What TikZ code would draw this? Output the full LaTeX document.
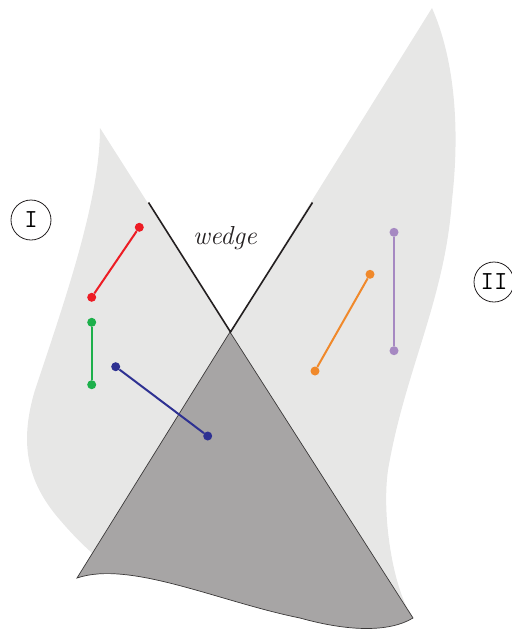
\documentclass[tikz,border=0pt]{standalone}
\usepackage{fontspec}
\definecolor{lightg}{HTML}{E7E7E6}
\definecolor{darkg}{HTML}{A7A5A5}
\definecolor{edgec}{HTML}{3A3838}
\definecolor{inkc}{HTML}{231F20}
\definecolor{segred}{HTML}{ED1C24}
\definecolor{seggreen}{HTML}{1DB04B}
\definecolor{segblue}{HTML}{2E3192}
\definecolor{segorange}{HTML}{F0892B}
\definecolor{segpurple}{HTML}{A689C2}
\begin{document}
\begin{tikzpicture}[x=1pt,y=-1pt,
  endpt/.style={circle,inner sep=0pt,minimum size=9pt,draw=none},
  segline/.style={line width=2pt},
  wedgeline/.style={line width=1.6pt,draw=inkc},
  regionlabel/.style={circle,draw=inkc,line width=0.8pt,minimum size=40pt,inner sep=0pt,font=\fontsize{26}{26}\selectfont\ttfamily}]
\useasboundingbox (0,0) rectangle (512,630);
% region I
\fill[lightg] (100,128) -- (230,332) -- (92,553)
  .. controls (82,544) and (72,534) .. (60,520)
  .. controls (25,480) and (20,440) .. (35,390)
  .. controls (65,300) and (100,200) .. (100,128) -- cycle;
% region II
\fill[lightg] (432,8) -- (230,332) -- (413,617)
  .. controls (395,595) and (381,520) .. (388,470)
  .. controls (405,370) and (445,300) .. (452,200)
  .. controls (460,130) and (455,60) .. (432,8) -- cycle;
% dark region
\filldraw[fill=darkg,draw=edgec,line width=0.7pt] (230,332) -- (77,578)
  .. controls (130,560) and (220,602) .. (300,618)
  .. controls (350,632) and (390,632) .. (413,618) -- cycle;
% wedge
\coordinate (apex) at (230.5,332);
\coordinate (wl) at (148.5,202.5);
\coordinate (wr) at (312.5,202.5);
\draw[wedgeline] (wl) -- (apex) -- (wr);
\node[font=\fontsize{26}{26}\selectfont\itshape,text=inkc] (wtext) at (225,238) {wedge};
% labels
\node[regionlabel] (labI) at (31,220) {I};
\node[regionlabel] (labII) at (494,282) {II};
% segments
\node[endpt,fill=segred] (r1) at (139.3,227.3) {};
\node[endpt,fill=segred] (r2) at (91.7,297.3) {};
\draw[segline,segred] (r1) -- (r2);
\node[endpt,fill=seggreen] (g1) at (91.7,322.3) {};
\node[endpt,fill=seggreen] (g2) at (91.7,384.7) {};
\draw[segline,seggreen] (g1) -- (g2);
\node[endpt,fill=segblue] (b1) at (115.7,366.7) {};
\node[endpt,fill=segblue] (b2) at (207.7,436) {};
\draw[segline,segblue] (b1) -- (b2);
\node[endpt,fill=segorange] (o1) at (370,274.3) {};
\node[endpt,fill=segorange] (o2) at (315,371) {};
\draw[segline,segorange] (o1) -- (o2);
\node[endpt,fill=segpurple] (p1) at (394,232.3) {};
\node[endpt,fill=segpurple] (p2) at (394,350.7) {};
\draw[segline,segpurple] (p1) -- (p2);
\end{tikzpicture}
\end{document}
